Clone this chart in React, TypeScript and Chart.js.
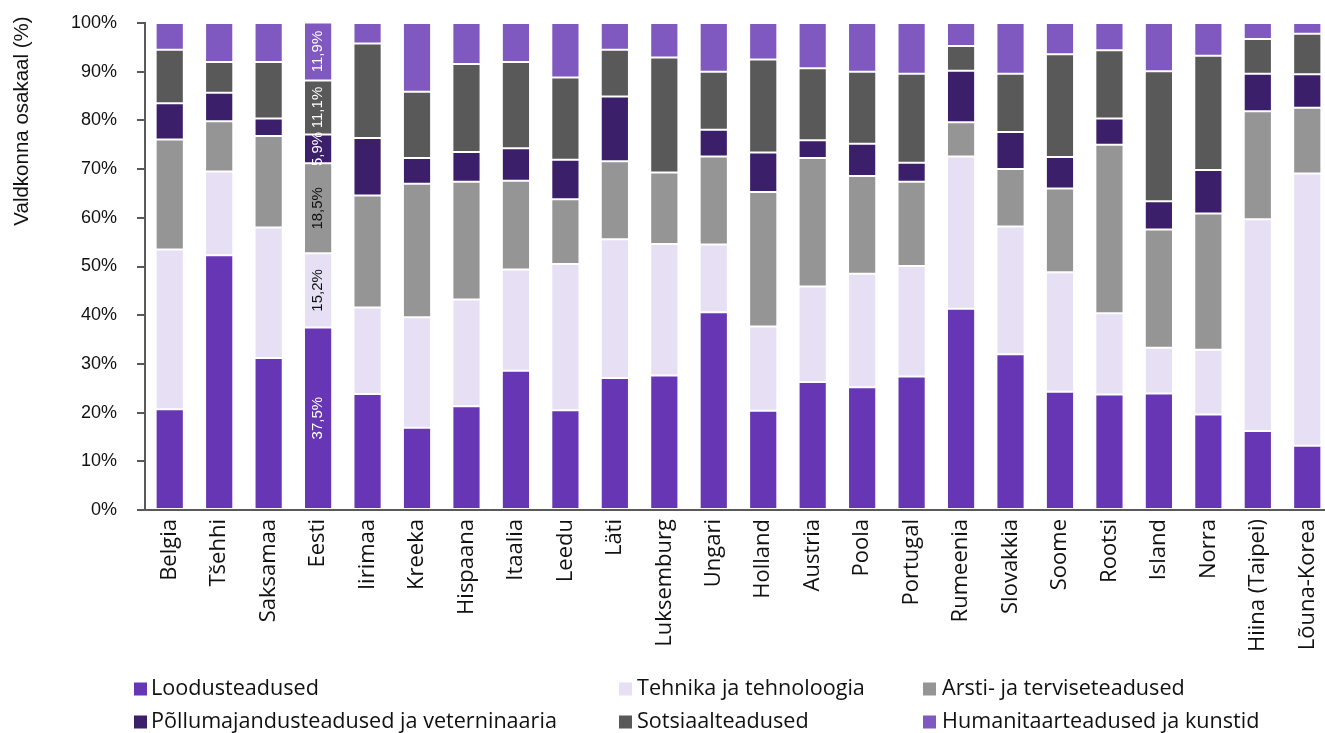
import React, { useEffect, useRef } from 'react';
import { Chart, registerables } from 'chart.js';

Chart.register(...registerables);

const countries = [
  'Belgia', 'Tšehhi', 'Saksamaa', 'Eesti', 'Iirimaa', 'Kreeka', 'Hispaana', 'Itaalia',
  'Leedu', 'Läti', 'Luksemburg', 'Ungari', 'Holland', 'Austria', 'Poola', 'Portugal',
  'Rumeenia', 'Slovakkia', 'Soome', 'Rootsi', 'Island', 'Norra', 'Hiina (Taipei)', 'Lõuna-Korea',
];

const seriesNames = [
  'Loodusteadused',
  'Tehnika ja tehnoloogia',
  'Arsti- ja terviseteadused',
  'Põllumajandusteadused ja veterninaaria',
  'Sotsiaalteadused',
  'Humanitaarteadused ja kunstid',
];

const loodus = [20.7, 52.3, 31.2, 37.5, 23.8, 16.9, 21.3, 28.6, 20.5, 27.1, 27.6, 40.6, 20.4, 26.3, 25.2, 27.4, 41.3, 32.0, 24.3, 23.7, 23.9, 19.6, 16.2, 13.2];
const tehnika = [32.8, 17.2, 26.8, 15.2, 17.8, 22.7, 21.9, 20.8, 30.0, 28.5, 27.0, 13.9, 17.3, 19.6, 23.3, 22.7, 31.3, 26.2, 24.5, 16.7, 9.4, 13.3, 43.5, 55.9];
const arsti = [22.6, 10.3, 18.8, 18.5, 23.0, 27.4, 24.2, 18.2, 13.3, 16.0, 14.7, 18.1, 27.6, 26.4, 20.1, 17.3, 7.0, 11.8, 17.2, 34.6, 24.3, 28.0, 22.2, 13.5];
const pollu = [7.4, 5.9, 3.6, 5.9, 11.8, 5.3, 6.1, 6.7, 8.1, 13.3, 0, 5.5, 8.1, 3.6, 6.6, 3.9, 10.6, 7.6, 6.5, 5.4, 5.8, 8.9, 7.7, 6.9];
const sotsiaal = [11.0, 6.3, 11.6, 11.1, 19.4, 13.6, 18.1, 17.7, 16.9, 9.6, 23.6, 11.9, 19.1, 14.8, 14.8, 18.3, 5.1, 12.0, 21.1, 14.0, 26.7, 23.5, 7.1, 8.3];
const humanitaar = [5.5, 8.0, 8.0, 11.9, 4.2, 14.1, 8.4, 8.0, 11.2, 5.5, 7.1, 10.0, 7.5, 9.3, 10.0, 10.4, 4.7, 10.4, 6.4, 5.6, 9.9, 6.7, 3.3, 2.2];

const yTicks = [0, 10, 20, 30, 40, 50, 60, 70, 80, 90, 100];
const labelledCountry = 'Eesti';
const yTitle = 'Valdkonna osakaal (%)';

const seriesValues = [loodus, tehnika, arsti, pollu, sotsiaal, humanitaar];
const seriesColors = ['#6636B4', '#E7E0F5', '#959595', '#3C1F6B', '#595959', '#7F58C0'];
const labelTextColors = ['#ffffff', '#111111', '#111111', '#ffffff', '#ffffff', '#ffffff'];

const ARIAL = '"Liberation Sans", Arial, sans-serif';
const HUMANIST = '"Open Sans", "Noto Sans", sans-serif';

const fmt = (v: number) => v.toFixed(1).replace('.', ',') + '%';

const yTitlePlugin = {
  id: 'yTitleCustom',
  afterDraw(chart: any) {
    const ctx = chart.ctx;
    ctx.save();
    ctx.translate(22, 121);
    ctx.rotate(-Math.PI / 2);
    ctx.font = `20.5px ${ARIAL}`;
    ctx.fillStyle = '#111111';
    ctx.textAlign = 'center';
    ctx.textBaseline = 'middle';
    ctx.fillText(yTitle, 0, 0);
    ctx.restore();
  },
};

const valueLabelPlugin = {
  id: 'valueLabels',
  afterDatasetsDraw(chart: any) {
    const ctx = chart.ctx;
    const idx = countries.indexOf(labelledCountry);
    chart.data.datasets.forEach((ds: any, di: number) => {
      const meta = chart.getDatasetMeta(di);
      const el = meta.data[idx];
      const v = ds.data[idx];
      if (!el || !v) return;
      const cy = (el.y + el.base) / 2;
      ctx.save();
      ctx.translate(el.x, cy);
      ctx.rotate(-Math.PI / 2);
      ctx.font = `15px ${ARIAL}`;
      ctx.fillStyle = labelTextColors[di];
      ctx.textAlign = 'center';
      ctx.textBaseline = 'middle';
      ctx.fillText(fmt(v), 0, 0);
      ctx.restore();
    });
  },
};

const legendPlugin = {
  id: 'gridLegend',
  afterDraw(chart: any) {
    const ctx = chart.ctx;
    const boxX = [134, 619, 923];
    const textX = [151, 637, 942];
    const rowY = [689, 722];
    chart.data.datasets.forEach((ds: any, i: number) => {
      const col = i % 3;
      const row = Math.floor(i / 3);
      ctx.save();
      ctx.fillStyle = ds.backgroundColor;
      ctx.fillRect(boxX[col], rowY[row] - 6.5, 13, 13);
      ctx.font = `21.6px ${HUMANIST}`;
      ctx.fillStyle = '#111111';
      ctx.textAlign = 'left';
      ctx.textBaseline = 'middle';
      ctx.fillText(ds.label, textX[col], rowY[row]);
      ctx.restore();
    });
  },
};

export default function App() {
  const canvasRef = useRef<HTMLCanvasElement | null>(null);

  useEffect(() => {
    if (!canvasRef.current) return;
    const chart = new Chart(canvasRef.current, {
      type: 'bar',
      data: {
        labels: countries,
        datasets: seriesNames.map((name, i) => ({
          label: name,
          data: seriesValues[i],
          backgroundColor: seriesColors[i],
          borderColor: 'rgba(255,255,255,0.3)',
          borderWidth: 1,
          borderSkipped: false,
          barPercentage: 0.57,
          categoryPercentage: 1,
        })),
      },
      options: {
        responsive: false,
        animation: false,
        layout: { padding: { left: 0, right: 0, top: 23, bottom: 0 } },
        plugins: {
          legend: { display: false },
          tooltip: { enabled: false },
          title: { display: false },
        },
        scales: {
          x: {
            stacked: true,
            offset: true,
            grid: { display: false, drawTicks: false },
            border: { display: true, color: '#595959', width: 2 },
            ticks: {
              autoSkip: false,
              minRotation: 90,
              maxRotation: 90,
              padding: 9,
              color: '#111111',
              font: { family: HUMANIST, size: 22 },
            },
            afterFit: (scale: any) => {
              scale.height = 223;
              scale.paddingRight = 0;
            },
          },
          y: {
            stacked: true,
            min: 0,
            max: 100,
            afterBuildTicks: (scale: any) => {
              scale.ticks = yTicks.map((v) => ({ value: v }));
            },
            grid: {
              display: true,
              drawOnChartArea: false,
              drawTicks: true,
              tickLength: 8,
              color: '#595959',
              lineWidth: 2,
            },
            border: { display: true, color: '#595959', width: 2 },
            ticks: {
              padding: 20,
              color: '#111111',
              font: { family: ARIAL, size: 18 },
              callback: (v: any) => v + '%',
            },
            afterFit: (scale: any) => {
              scale.width = 145;
              scale.paddingTop = 0;
              scale.paddingBottom = 0;
            },
          },
        },
      },
      plugins: [valueLabelPlugin, yTitlePlugin, legendPlugin],
    } as any);
    return () => chart.destroy();
  }, []);

  return (
    <div style={{ position: 'fixed', left: 0, top: 0, width: 1325, height: 733, overflow: 'hidden', background: '#fff' }}>
      <canvas ref={canvasRef} width={1332} height={733} style={{ width: 1332, height: 733, display: 'block' }} />
    </div>
  );
}
